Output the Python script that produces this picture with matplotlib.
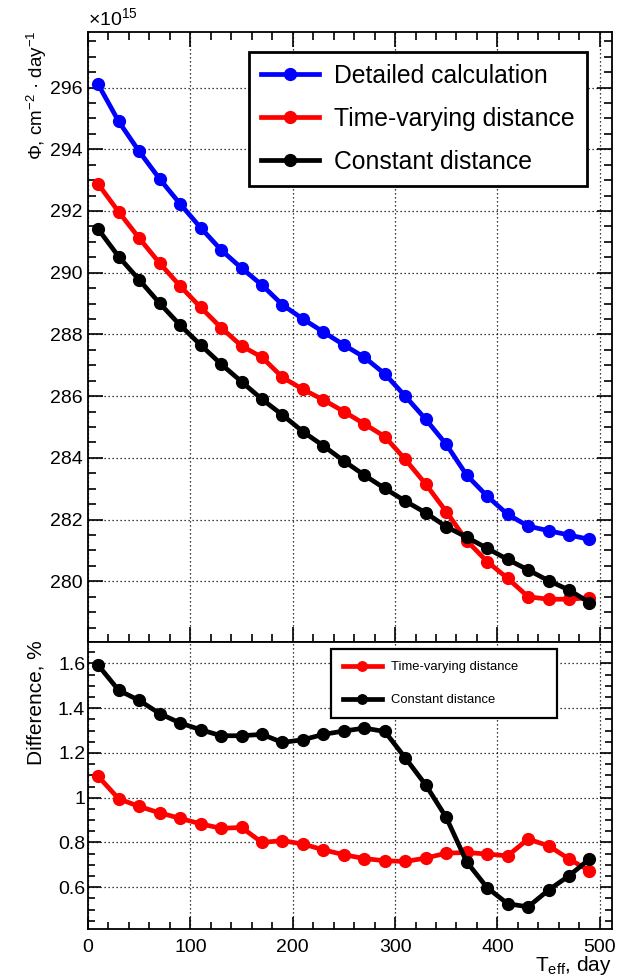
import matplotlib
matplotlib.use("Agg")
import matplotlib.pyplot as plt
from matplotlib.ticker import MultipleLocator, FuncFormatter

plt.rcParams["font.family"] = ["Liberation Sans", "DejaVu Sans"]
plt.rcParams["mathtext.fontset"] = "custom"
plt.rcParams["mathtext.rm"] = "Liberation Sans"
plt.rcParams["mathtext.it"] = "Liberation Sans:italic"

# effective time, day
t_eff = [10, 30, 50, 70, 90, 110, 130, 150, 170, 190, 210, 230, 250,
         270, 290, 310, 330, 350, 370, 390, 410, 430, 450, 470, 490]

# flux, units of 1e15 cm^-2 day^-1
flux_detailed = [296.10, 294.90, 293.93, 293.04, 292.23, 291.46, 290.74, 290.15,
                 289.60, 288.96, 288.50, 288.08, 287.66, 287.26, 286.72, 286.00,
                 285.25, 284.44, 283.44, 282.76, 282.17, 281.79, 281.64, 281.50,
                 281.36]
flux_varying = [292.87, 291.97, 291.12, 290.31, 289.57, 288.88, 288.22, 287.63,
                287.26, 286.61, 286.22, 285.88, 285.50, 285.10, 284.69, 283.95,
                283.15, 282.26, 281.32, 280.64, 280.10, 279.50, 279.42, 279.42,
                279.47]
flux_const = [291.41, 290.52, 289.77, 289.01, 288.30, 287.66, 287.04, 286.47,
              285.90, 285.39, 284.85, 284.39, 283.90, 283.44, 283.01, 282.60,
              282.22, 281.77, 281.43, 281.07, 280.71, 280.37, 280.02, 279.72,
              279.31]

# difference to the detailed calculation, %
diff_varying = [1.095, 0.995, 0.961, 0.932, 0.908, 0.883, 0.863, 0.867, 0.800,
                0.808, 0.793, 0.767, 0.745, 0.728, 0.718, 0.715, 0.730, 0.752,
                0.755, 0.748, 0.740, 0.815, 0.785, 0.726, 0.673]
diff_const = [1.592, 1.480, 1.435, 1.376, 1.334, 1.304, 1.277, 1.277, 1.283,
              1.247, 1.259, 1.283, 1.298, 1.311, 1.296, 1.178, 1.057, 0.912,
              0.713, 0.598, 0.526, 0.512, 0.587, 0.651, 0.726]

W, H = 629, 976
fig = plt.figure(figsize=(W / 100, H / 100), dpi=100)


def px_axes(left, top, right, bottom):
    return fig.add_axes([left / W, 1 - bottom / H, (right - left) / W, (bottom - top) / H])


ax1 = px_axes(88, 32, 612, 641.5)
ax2 = px_axes(88, 642, 612, 929)

grid_kw = dict(color="black", ls=(0, (1, 2.2)), lw=0.9)
for ax in (ax1, ax2):
    ax.set_xlim(0, 512)
    ax.xaxis.set_major_locator(MultipleLocator(100))
    ax.xaxis.set_minor_locator(MultipleLocator(20))
    ax.grid(True, which="major", **grid_kw)
    ax.set_axisbelow(True)
    for s in ax.spines.values():
        s.set_linewidth(1.3)

# upper panel: flux
series = [(flux_detailed, "#0000ff", "Detailed calculation"),
          (flux_varying, "#ff0000", "Time-varying distance"),
          (flux_const, "#000000", "Constant distance")]
for y, c, lab in series:
    ax1.plot(t_eff, y, color=c, lw=3.4, marker="o", ms=8.5, label=lab)
ax1.set_ylim(278.05, 297.8)
ax1.yaxis.set_major_locator(MultipleLocator(2))
ax1.yaxis.set_minor_locator(MultipleLocator(0.5))
ax1.tick_params(which="both", direction="in", top=True, right=True, width=1.2)
ax1.tick_params(which="major", length=11)
ax1.tick_params(which="minor", length=5.5)
ax1.tick_params(axis="y", labelsize=14, pad=4)
ax1.tick_params(axis="x", labelbottom=False)
ax1.set_ylabel("Φ, cm$^{-2}$ · day$^{-1}$", fontsize=13.5, ha="right", va="center")
ax1.yaxis.set_label_coords(-0.097, 1.003)
ax1.text(0.0, 1.004, r"$\times$10$^{15}$", transform=ax1.transAxes,
         fontsize=14, ha="left", va="bottom")
leg1 = ax1.legend(loc="upper left", bbox_to_anchor=(0.3078, 0.7527, 0.6452, 0.214),
                  mode="expand", fontsize=17.8, handlelength=2.35, handletextpad=0.6,
                  labelspacing=0.77, borderpad=0.47, borderaxespad=0, fancybox=False,
                  framealpha=1, edgecolor="black")
leg1.get_frame().set_linewidth(2)

# lower panel: difference
ax2.plot(t_eff, diff_varying, color="#ff0000", lw=3.4, marker="o", ms=8.5,
         label="Time-varying distance")
ax2.plot(t_eff, diff_const, color="#000000", lw=3.4, marker="o", ms=8.5,
         label="Constant distance")
ax2.set_ylim(0.413, 1.696)
ax2.yaxis.set_major_locator(MultipleLocator(0.2))
ax2.yaxis.set_minor_locator(MultipleLocator(0.05))
ax2.yaxis.set_major_formatter(FuncFormatter(lambda v, p: f"{v:g}"))
ax2.tick_params(which="both", direction="in", top=False, right=True, width=1.2)
ax2.tick_params(axis="x", which="major", length=9)
ax2.tick_params(axis="x", which="minor", length=5)
ax2.tick_params(axis="y", which="major", length=9)
ax2.tick_params(axis="y", which="minor", length=5)
ax2.tick_params(axis="y", labelsize=14, pad=2)
ax2.tick_params(axis="x", labelsize=14, pad=7)
ax2.set_ylabel("Difference, %", fontsize=15, ha="right", va="center")
ax2.yaxis.set_label_coords(-0.099, 1.007)
ax2.text(1.0, -0.146, r"T$_{\rm eff}$, day", transform=ax2.transAxes,
         fontsize=15, ha="right", va="baseline")
leg2 = ax2.legend(loc="upper left", bbox_to_anchor=(0.4637, 0.749, 0.4319, 0.2256),
                  mode="expand", fontsize=9.4, handlelength=3.0, handletextpad=0.7,
                  labelspacing=1.6, borderpad=0.9, borderaxespad=0, fancybox=False,
                  framealpha=1, edgecolor="black", markerscale=0.8)
leg2.get_frame().set_linewidth(1.6)

fig.savefig("out.png", dpi=100)
